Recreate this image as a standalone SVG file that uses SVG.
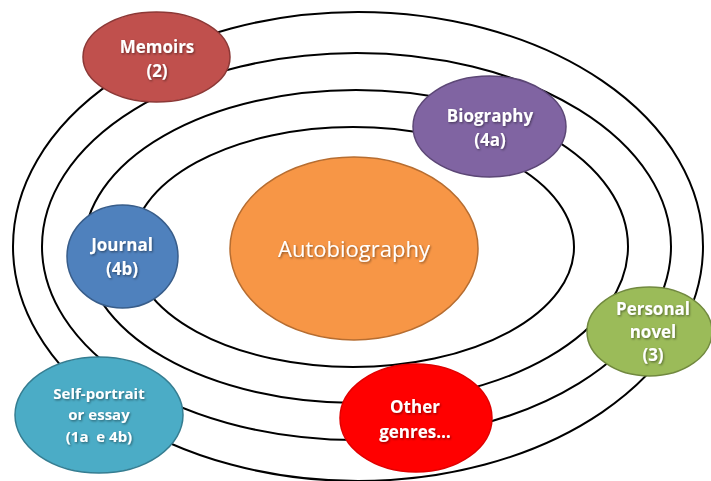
<svg xmlns="http://www.w3.org/2000/svg" width="711" height="481" viewBox="0 0 711 481">
<defs>
<filter id="sh" x="-20%" y="-20%" width="140%" height="140%">
<feDropShadow dx="1" dy="1.2" stdDeviation="0.8" flood-color="#000" flood-opacity="0.45"/>
</filter>
<style>
.ring{fill:none;stroke:#000;stroke-width:2}
.node{stroke-width:1.5}
.lbl{font-family:"Open Sans","Liberation Sans",sans-serif;font-weight:bold;font-size:17px;fill:#fff;text-anchor:middle;filter:url(#sh)}
.sm{font-size:15px}
.big{font-family:"Open Sans","Liberation Sans",sans-serif;font-size:22px;fill:#fff;text-anchor:middle;filter:url(#sh)}
</style>
</defs>
<rect width="711" height="481" fill="#fff"/>
<g id="connectors">
<ellipse class="ring" cx="358" cy="246.5" rx="345" ry="234.5"/>
<ellipse class="ring" cx="356.5" cy="246.5" rx="314.5" ry="193.5"/>
<ellipse class="ring" cx="356" cy="246.5" rx="272" ry="156.5"/>
<ellipse class="ring" cx="353" cy="247" rx="221" ry="120"/>
</g>
<g id="autobiography">
<ellipse class="node" cx="354" cy="248.5" rx="124" ry="91.5" fill="#F79646" stroke="#B66D31"/>
<text class="big" x="354" y="257">Autobiography</text>
</g>
<g id="memoirs">
<ellipse class="node" cx="156.5" cy="57" rx="73.5" ry="45" fill="#C0504D" stroke="#8C3836"/>
<text class="lbl" x="157" y="53">Memoirs</text>
<text class="lbl" x="157" y="77">(2)</text>
</g>
<g id="biography">
<ellipse class="node" cx="489.5" cy="126.5" rx="76.5" ry="50.5" fill="#8064A2" stroke="#5C4776"/>
<text class="lbl" x="490" y="122">Biography</text>
<text class="lbl" x="490" y="146">(4a)</text>
</g>
<g id="journal">
<ellipse class="node" cx="122.5" cy="256.5" rx="55.5" ry="51.5" fill="#4F81BD" stroke="#385D8A"/>
<text class="lbl" x="122" y="251">Journal</text>
<text class="lbl" x="122" y="275">(4b)</text>
</g>
<g id="personal-novel">
<ellipse class="node" cx="649.5" cy="331.5" rx="62.5" ry="44.5" fill="#9BBB59" stroke="#71893F"/>
<text class="lbl" x="653" y="315">Personal</text>
<text class="lbl" x="653" y="338">novel</text>
<text class="lbl" x="653" y="361">(3)</text>
</g>
<g id="self-portrait">
<ellipse class="node" cx="99" cy="415" rx="84" ry="58" fill="#4BACC6" stroke="#357D91"/>
<text class="lbl sm" x="99" y="399">Self-portrait</text>
<text class="lbl sm" x="99" y="420">or essay</text>
<text class="lbl sm" x="99" y="442" xml:space="preserve">(1a  e 4b)</text>
</g>
<g id="other-genres">
<ellipse class="node" cx="416" cy="418" rx="76" ry="54" fill="#FF0000" stroke="#E00000"/>
<text class="lbl" x="415" y="413">Other</text>
<text class="lbl" x="415" y="438">genres…</text>
</g>
</svg>
